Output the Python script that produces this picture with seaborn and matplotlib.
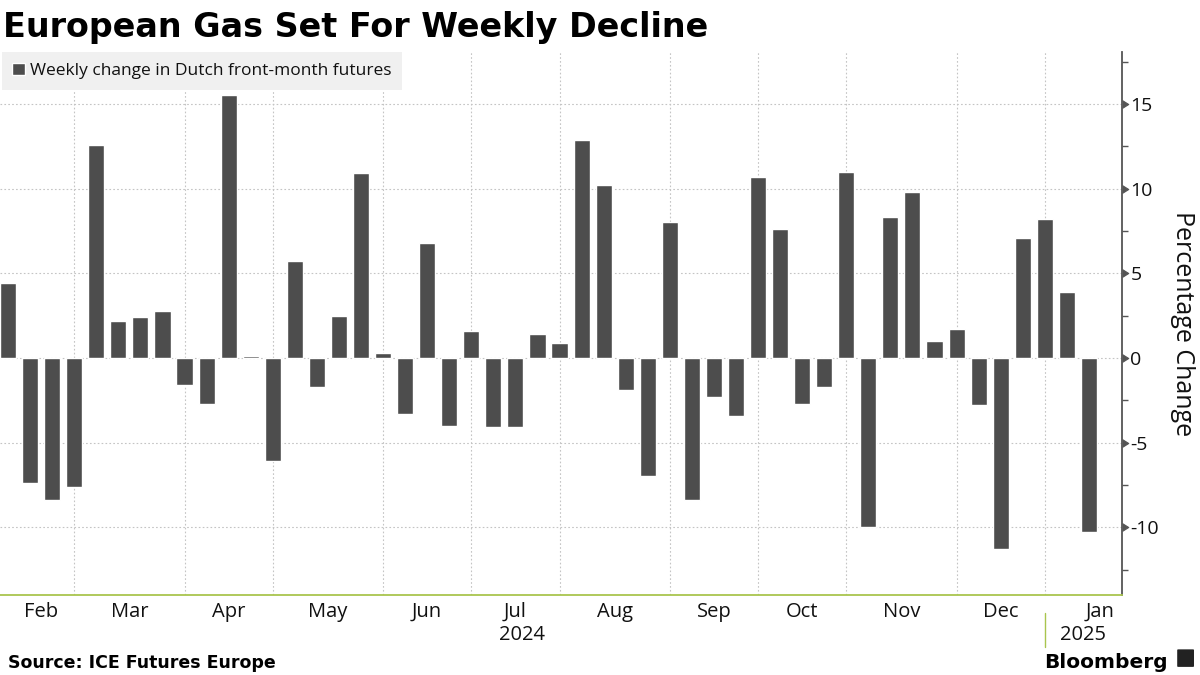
import numpy as np
import pandas as pd
import matplotlib
matplotlib.use("Agg")
import matplotlib.pyplot as plt
import seaborn as sns
from matplotlib.patches import FancyBboxPatch

sns.set_style("white")
plt.rcParams['font.family'] = ['Open Sans', 'DejaVu Sans']
plt.rcParams['axes.unicode_minus'] = False

# weekly change (%) in Dutch front-month gas futures, weeks ending Friday
weeks = pd.date_range("2024-02-09", "2025-01-17", freq="W-FRI")
pct_change = [4.4, -7.4, -8.4, -7.6, 12.6, 2.2, 2.4, 2.8, -1.6, -2.7,
              15.5, 0.1, -6.1, 5.7, -1.7, 2.5, 10.9, 0.3, -3.3, 6.8,
              -4.0, 1.6, -4.1, -4.1, 1.4, 0.9, 12.9, 10.2, -1.9, -7.0,
              8.0, -8.4, -2.3, -3.4, 10.7, 7.6, -2.7, -1.7, 11.0, -10.0,
              8.3, 9.8, 1.0, 1.7, -2.8, -11.3, 7.1, 8.2, 3.9, -10.3]
month_names = ['Feb', 'Mar', 'Apr', 'May', 'Jun', 'Jul', 'Aug',
               'Sep', 'Oct', 'Nov', 'Dec', 'Jan']
y_major = [-10, -5, 0, 5, 10, 15]
y_minor = [-12.5, -7.5, -2.5, 2.5, 7.5, 12.5, 17.5]

df = pd.DataFrame({'week': weeks, 'change': pct_change})
df['pos'] = np.arange(len(df))
n = len(df)

# first bar of each new month -> gridlines
starts = [i for i in range(1, n) if weeks[i].month != weeks[i - 1].month]
bounds = [0] + starts + [n + 2]
label_pos = [(bounds[i] + bounds[i + 1]) / 2 for i in range(len(bounds) - 1)]

bar_color = '#4d4d4d'
axis_green = '#a9c54e'
spine_grey = '#555555'
grid_grey = '#c4c4c4'

fig = plt.figure(figsize=(12, 6.75), dpi=100)
ax = fig.add_axes([0.0, 0.1185, 0.935, 0.8045])

sns.barplot(data=df, x='pos', y='change', color=bar_color, saturation=1,
            width=0.73, ax=ax, label='Weekly change in Dutch front-month futures')

ax.set_xlim(-0.365, n + 0.5)
ax.set_ylim(-14.0, 18.07)
ax.set_axisbelow(True)

# y axis on the right
ax.yaxis.tick_right()
ax.set_yticks(y_major)
ax.set_yticks(y_minor, minor=True)
ax.set_yticklabels([str(v) for v in y_major], fontsize=14, color='#111111')
ax.tick_params(axis='y', which='major', length=0, pad=6)
ax.tick_params(axis='y', which='minor', length=4, width=1, color=spine_grey, direction='out')
for t in ax.yaxis.get_major_ticks():
    t.tick2line.set_marker([(0, -1), (1.6, 0), (0, 1)])
    t.tick2line.set_markersize(9)
    t.tick2line.set_color(spine_grey)
    t.tick2line.set_markerfacecolor(spine_grey)
    t.tick2line.set_markeredgecolor(spine_grey)
ax.set_ylabel('')
fig.text(0.9858, 0.5207, 'Percentage Change', fontsize=18, rotation=-90,
         ha='center', va='center', color='#111111')

# x axis: gridlines at month starts, labels between them
ax.set_xticks(starts)
ax.set_xticklabels([''] * len(starts))
ax.set_xticks(label_pos, minor=True)
ax.set_xticklabels(month_names, minor=True, fontsize=14.5, color='#111111')
ax.tick_params(axis='x', which='major', length=5, width=1, color=axis_green, direction='out')
ax.tick_params(axis='x', which='minor', length=0, pad=5)
ax.set_xlabel('')

ax.grid(True, which='major', axis='both', color=grid_grey, linestyle=(0, (1.5, 2)), linewidth=0.8)
ax.grid(False, which='minor')

for side in ['left', 'top']:
    ax.spines[side].set_visible(False)
ax.spines['right'].set_color(spine_grey)
ax.spines['right'].set_linewidth(1.3)
ax.spines['bottom'].set_color(axis_green)
ax.spines['bottom'].set_linewidth(1.3)

# year row
year_split = starts[-1]
ax.text((-0.365 + year_split) / 2, -0.074, '2024', transform=ax.get_xaxis_transform(),
        ha='center', va='center', fontsize=14.5, color='#111111')
ax.text((year_split + n + 0.5) / 2, -0.074, '2025', transform=ax.get_xaxis_transform(),
        ha='center', va='center', fontsize=14.5, color='#111111')
ax.plot([year_split, year_split], [-0.033, -0.096], transform=ax.get_xaxis_transform(),
        color=axis_green, linewidth=1, clip_on=False)

leg = ax.legend(loc='upper left', bbox_to_anchor=(0.0015, 1.0), borderaxespad=0,
                frameon=True, fancybox=False, facecolor='#f0f0f0', edgecolor='none',
                framealpha=1, fontsize=12.5, handlelength=0.7, handleheight=0.7,
                handletextpad=0.3, borderpad=0.62)
for txt in leg.get_texts():
    txt.set_color('#111111')

fig.text(0.0025, 0.945, 'European Gas Set For Weekly Decline', fontsize=24,
         fontweight='bold', family='DejaVu Sans', va='baseline', ha='left', color='black')
fig.text(0.007, 0.011, 'Source: ICE Futures Europe', fontsize=12.5,
         fontweight='bold', family='DejaVu Sans', va='baseline', ha='left', color='black')
fig.text(0.973, 0.011, 'Bloomberg', fontsize=14.5, fontweight='bold',
         family='DejaVu Sans', va='baseline', ha='right', color='black')
fig.patches.append(FancyBboxPatch((0.982, 0.013), 0.012, 0.024, boxstyle='round,pad=0.001',
                                  transform=fig.transFigure, facecolor='#222222',
                                  edgecolor='none'))

fig.savefig('out.png', dpi=100)
